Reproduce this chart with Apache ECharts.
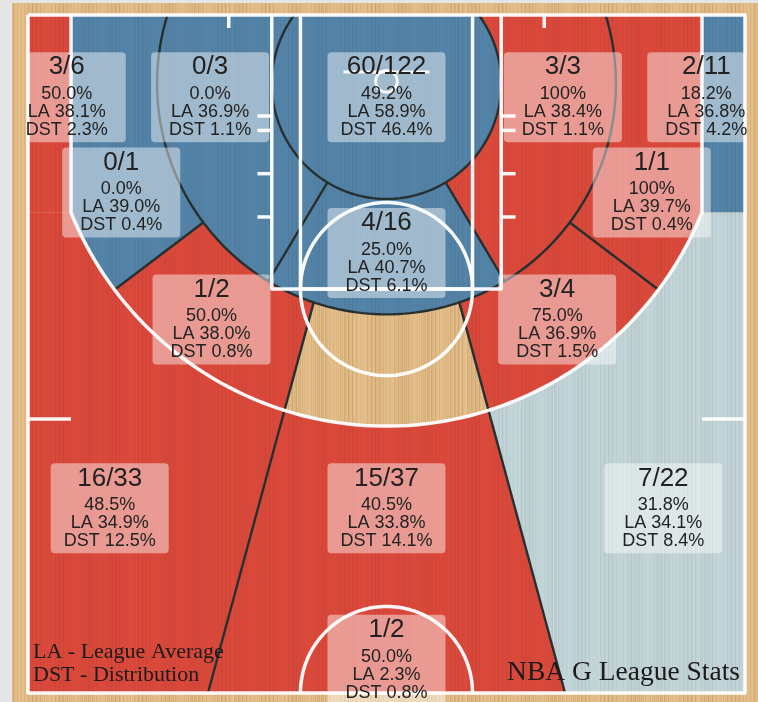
<!DOCTYPE html>
<html>
<head>
<meta charset="utf-8">
<script src="https://cdn.jsdelivr.net/npm/echarts@6/dist/echarts.min.js"></script>
<style>
  html, body { margin: 0; padding: 0; background: #e5e5e5; }
  #chart { width: 758px; height: 702px; }
</style>
</head>
<body>
<div id="chart"></div>
<script>
// ---- shot data per zone ----
const zoneIds = [
  'leftCorner3', 'leftBaseShort', 'restricted', 'rightBaseShort', 'rightCorner3',
  'leftBaseLong', 'rightBaseLong', 'paint', 'leftWing', 'rightWing',
  'leftAbove3', 'center3', 'rightAbove3', 'backcourt', 'centerMid'
];
const made        = [3, 0, 60, 3, 2, 0, 1, 4, 1, 3, 16, 15, 7, 1, 0];
const attempts    = [6, 3, 122, 3, 11, 1, 1, 16, 2, 4, 33, 37, 22, 2, 0];
const leagueAvg   = [38.1, 36.9, 58.9, 38.4, 36.8, 39.0, 39.7, 40.7, 38.0, 36.9, 34.9, 33.8, 34.1, 2.3, 0];
const distribution = [2.3, 1.1, 46.4, 1.1, 4.2, 0.4, 0.4, 6.1, 0.8, 1.5, 12.5, 14.1, 8.4, 0.8, 0];

// ---- half-court geometry (feet; x across, y from baseline) ----
const COURT_W = 25, COURT_L = 47;
const BASKET_Y = 4.75;
const R_RA = 8, R_MID = 16, R_3 = 23.75, CORNER_X = 22;
const Y_BREAK = BASKET_Y + Math.sqrt(R_3 * R_3 - CORNER_X * CORNER_X);
const ANG_BREAK = Math.asin(CORNER_X / R_3) * 180 / Math.PI;
const ANG_PAINT = 31, ANG_WING = 53, ANG_CENTER = 18.5, HALF_X = 12.45;

function P(r, deg) {
  const a = deg * Math.PI / 180;
  return [r * Math.sin(a), BASKET_Y + r * Math.cos(a)];
}
function arc(r, a0, a1) {
  const n = Math.max(8, Math.ceil(Math.abs(a1 - a0) / 1.5));
  const out = [];
  for (let k = 0; k <= n; k++) out.push(P(r, a0 + (a1 - a0) * k / n));
  return out;
}
function circlePts(cx, cy, r, t0, t1) {
  const n = 90, out = [];
  for (let k = 0; k <= n; k++) {
    const t = (t0 + (t1 - t0) * k / n) * Math.PI / 180;
    out.push([cx + r * Math.cos(t), cy + r * Math.sin(t)]);
  }
  return out;
}
// centre wedge edge (side -1 left, +1 right), 16 ft arc to half-court line
const wedgeStart = side => P(R_MID, side * ANG_CENTER);
const wedgeEnd = side => [side * HALF_X, COURT_L];
function wedgeAt3(side) {
  const a = wedgeStart(side), b = wedgeEnd(side);
  let lo = 0, hi = 1;
  for (let k = 0; k < 60; k++) {
    const m = (lo + hi) / 2;
    const x = a[0] + (b[0] - a[0]) * m, y = a[1] + (b[1] - a[1]) * m;
    if (Math.hypot(x, y - BASKET_Y) < R_3) lo = m; else hi = m;
  }
  const t = (lo + hi) / 2;
  return [a[0] + (b[0] - a[0]) * t, a[1] + (b[1] - a[1]) * t];
}
const angleOf = p => Math.atan2(p[0], p[1] - BASKET_Y) * 180 / Math.PI;
const A3L = angleOf(wedgeAt3(-1)), A3R = angleOf(wedgeAt3(1));

// zone outlines and label anchors
const zoneLayout = {
  leftCorner3:   { poly: [[-COURT_W, 0], [-CORNER_X, 0], [-CORNER_X, Y_BREAK], [-COURT_W, Y_BREAK]], at: [-22.3, 5.7] },
  rightCorner3:  { poly: [[COURT_W, 0], [CORNER_X, 0], [CORNER_X, Y_BREAK], [COURT_W, Y_BREAK]], at: [22.3, 5.7] },
  restricted:    { poly: arc(R_RA, -180, 180), at: [0, 5.7] },
  paint:         { poly: arc(R_RA, -ANG_PAINT, ANG_PAINT).concat(arc(R_MID, ANG_PAINT, -ANG_PAINT)), at: [0, 16.5] },
  leftBaseShort: { poly: arc(R_RA, -ANG_PAINT, -170).concat(arc(R_MID, -170, -ANG_PAINT)), at: [-12.3, 5.7] },
  rightBaseShort:{ poly: arc(R_RA, ANG_PAINT, 170).concat(arc(R_MID, 170, ANG_PAINT)), at: [12.3, 5.7] },
  leftBaseLong:  { poly: arc(R_MID, -ANG_WING, -150).concat([[-CORNER_X, -6], [-CORNER_X, Y_BREAK]], arc(R_3, -ANG_BREAK, -ANG_WING)), at: [-18.5, 12.3] },
  rightBaseLong: { poly: arc(R_MID, ANG_WING, 150).concat([[CORNER_X, -6], [CORNER_X, Y_BREAK]], arc(R_3, ANG_BREAK, ANG_WING)), at: [18.5, 12.3] },
  leftWing:      { poly: arc(R_MID, -ANG_CENTER, -ANG_WING).concat(arc(R_3, -ANG_WING, A3L)), at: [-12.2, 21.1] },
  rightWing:     { poly: arc(R_MID, ANG_CENTER, ANG_WING).concat(arc(R_3, ANG_WING, A3R)), at: [11.9, 21.1] },
  centerMid:     { poly: arc(R_MID, -ANG_CENTER, ANG_CENTER).concat(arc(R_3, A3R, A3L)), at: [0, 23] },
  leftAbove3:    { poly: [[-COURT_W, Y_BREAK], [-CORNER_X, Y_BREAK]].concat(arc(R_3, -ANG_BREAK, A3L), [wedgeEnd(-1), [-COURT_W, COURT_L]]), at: [-19.3, 34.2] },
  center3:       { poly: arc(R_3, A3L, A3R).concat([wedgeEnd(1), wedgeEnd(-1)]), at: [0, 34.2] },
  rightAbove3:   { poly: [[COURT_W, Y_BREAK], [CORNER_X, Y_BREAK]].concat(arc(R_3, ANG_BREAK, A3R), [wedgeEnd(1), [COURT_W, COURT_L]]), at: [19.3, 34.2] },
  backcourt:     { poly: null, at: [0, 44.7] }
};

// ---- colours ----
const RED = '#dd4a3c', BLUE = '#5485aa', LIGHT = '#c4d7db';
const WOOD = '#e5c18d';
const EDGE = '#263030';
function fgPct(i) { return attempts[i] ? made[i] / attempts[i] * 100 : 0; }
function fgText(i) {
  const v = fgPct(i);
  return (v === 100 ? '100' : v.toFixed(1)) + '%';
}
function zoneColor(i) {
  if (!attempts[i]) return 'none';
  const d = fgPct(i) - leagueAvg[i];
  if (d > 3) return RED;
  if (d < -3) return BLUE;
  return LIGHT;
}

// fine vertical grain laid over floor and zones
function grainCanvas(rgb, strength) {
  const cv = document.createElement('canvas');
  cv.width = 233; cv.height = 4;
  const ctx = cv.getContext('2d');
  for (let x = 0; x < cv.width; x++) {
    const v = Math.abs(Math.sin(x * 0.83) * Math.sin(x * 0.117 + 0.7) + 0.35 * Math.sin(x * 2.31));
    ctx.fillStyle = 'rgba(' + rgb + ',' + (strength * v).toFixed(3) + ')';
    ctx.fillRect(x, 0, 1, 4);
  }
  return cv;
}
const woodGrain = { image: grainCanvas('150,95,35', 0.22), repeat: 'repeat' };
const zoneGrain = { image: grainCanvas('40,20,10', 0.07), repeat: 'repeat' };

// clip a polygon to the court rectangle
function clipEdge(pts, axis, val, keepGreater) {
  const out = [];
  const inside = p => keepGreater ? p[axis] >= val : p[axis] <= val;
  const cross = (a, b) => {
    const t = (val - a[axis]) / (b[axis] - a[axis]);
    return [a[0] + (b[0] - a[0]) * t, a[1] + (b[1] - a[1]) * t];
  };
  for (let i = 0; i < pts.length; i++) {
    const cur = pts[i], prev = pts[(i + pts.length - 1) % pts.length];
    if (inside(cur)) {
      if (!inside(prev)) out.push(cross(prev, cur));
      out.push(cur);
    } else if (inside(prev)) out.push(cross(prev, cur));
  }
  return out;
}
function clipCourt(pts) {
  let p = clipEdge(pts, 0, -COURT_W, true);
  p = clipEdge(p, 0, COURT_W, false);
  p = clipEdge(p, 1, 0, true);
  p = clipEdge(p, 1, COURT_L, false);
  return p;
}

// ---- zone edge lines (dark) ----
const edgeLines = [
  arc(R_RA, -126.4, 126.4),
  arc(R_MID, -107.3, 107.3),
  [P(R_RA, -ANG_PAINT), P(R_MID, -ANG_PAINT)],
  [P(R_RA, ANG_PAINT), P(R_MID, ANG_PAINT)],
  [P(R_MID, -ANG_WING), P(R_3, -ANG_WING)],
  [P(R_MID, ANG_WING), P(R_3, ANG_WING)],
  [wedgeStart(-1), wedgeEnd(-1)],
  [wedgeStart(1), wedgeEnd(1)]
];
// backboard and rim (sit under the label box)
const basketLines = [
  [[-3, 3.95], [3, 3.95]],
  circlePts(0, 4.6, 0.75, 0, 360)
];

// ---- court markings (white) ----
const courtLines = [
  [[-COURT_W, 0], [COURT_W, 0], [COURT_W, COURT_L], [-COURT_W, COURT_L], [-COURT_W, 0]],
  [[-8, 0], [-8, 19], [8, 19], [8, 0]],
  [[-6, 0], [-6, 19], [6, 19], [6, 0]],
  circlePts(0, 19, 6, 0, 360),
  [[-CORNER_X, 0]].concat(arc(R_3, -ANG_BREAK, ANG_BREAK), [[CORNER_X, 0]]),
  circlePts(0, COURT_L, 6, 180, 360),
  [[-9, 7], [-8, 7]], [[8, 7], [9, 7]],
  [[-9, 8], [-8, 8]], [[8, 8], [9, 8]],
  [[-9, 11], [-8, 11]], [[8, 11], [9, 11]],
  [[-9, 14], [-8, 14]], [[8, 14], [9, 14]],
  [[-11, 0], [-11, 0.9]], [[11, 0], [11, 0.9]],
  [[-COURT_W, 28], [-CORNER_X, 28]], [[CORNER_X, 28], [COURT_W, 28]]
];

const chart = echarts.init(document.getElementById('chart'), null, { renderer: 'canvas' });
const labelIdx = zoneIds.map((_, i) => i).filter(i => attempts[i] > 0);
const FONT = '"Liberation Sans", Arial, Helvetica, sans-serif';
const SERIF = '"Liberation Serif", "Times New Roman", serif';

function polyline(api, pts, stroke, width) {
  return {
    type: 'polyline',
    shape: { points: pts.map(p => api.coord(p)) },
    style: { stroke: stroke, lineWidth: width, fill: null, lineJoin: 'round', lineCap: 'butt' }
  };
}

chart.setOption({
  backgroundColor: WOOD,
  animation: false,
  grid: { left: 28, top: 15, width: 717, height: 678 },
  xAxis: { type: 'value', min: -COURT_W, max: COURT_W, show: false },
  yAxis: { type: 'value', min: 0, max: COURT_L, inverse: true, show: false },
  graphic: [
    { type: 'rect', left: 0, top: 0, z: 0, shape: { width: 758, height: 702 }, style: { fill: woodGrain } },
    { type: 'rect', left: 0, top: 0, z: 0, shape: { width: 12, height: 702 }, style: { fill: '#e5e5e5' } },
    { type: 'rect', left: 0, top: 0, z: 0, shape: { width: 758, height: 3 }, style: { fill: '#e5e5e5' } },
    { type: 'text', x: 33, y: 652, z: 100, style: { text: 'LA - League Average', font: '22px ' + SERIF, fill: '#1b1b1b', verticalAlign: 'middle' } },
    { type: 'text', x: 33, y: 675, z: 100, style: { text: 'DST - Distribution', font: '22px ' + SERIF, fill: '#1b1b1b', verticalAlign: 'middle' } },
    { type: 'text', x: 740, y: 673, z: 100, style: { text: 'NBA G League Stats', font: '27.5px ' + SERIF, fill: '#1b1b1b', align: 'right', verticalAlign: 'middle' } }
  ],
  series: [
    {
      // coloured shot zones
      type: 'custom', z: 1, silent: true,
      data: zoneIds.map((_, i) => [i, 0]),
      renderItem(params, api) {
        const i = params.dataIndex;
        const lay = zoneLayout[zoneIds[i]];
        if (!lay.poly || !attempts[i]) return { type: 'group', children: [] };
        const pts = clipCourt(lay.poly).map(p => api.coord(p));
        return {
          type: 'group',
          children: [
            { type: 'polygon', shape: { points: pts }, style: { fill: zoneColor(i), stroke: null } },
            { type: 'polygon', shape: { points: pts }, style: { fill: zoneGrain, stroke: null } }
          ]
        };
      }
    },
    {
      // zone edges, backboard and rim
      type: 'custom', z: 2, silent: true,
      data: edgeLines.concat(basketLines).map((_, i) => [i, 0]),
      renderItem(params, api) {
        const k = params.dataIndex;
        if (k < edgeLines.length) return polyline(api, edgeLines[k], EDGE, 2.4);
        return polyline(api, basketLines[k - edgeLines.length], 'rgba(255,255,255,0.9)', 3);
      }
    },
    {
      // label boxes
      type: 'custom', z: 3, silent: true,
      data: labelIdx.map(i => [i, 0]),
      renderItem(params, api) {
        const i = labelIdx[params.dataIndex];
        const c = api.coord(zoneLayout[zoneIds[i]].at);
        const l = api.coord([-COURT_W, 0])[0], r = api.coord([COURT_W, 0])[0];
        const x0 = Math.max(l, c[0] - 59), x1 = Math.min(r, c[0] + 59);
        return { type: 'rect', shape: { x: x0, y: c[1] - 45, width: x1 - x0, height: 90, r: 4 }, style: { fill: 'rgba(255,255,255,0.45)' } };
      }
    },
    {
      // court markings
      type: 'custom', z: 4, silent: true,
      data: courtLines.map((_, i) => [i, 0]),
      renderItem(params, api) {
        return polyline(api, courtLines[params.dataIndex], 'rgba(255,255,255,0.95)', 3.5);
      }
    },
    {
      // label text
      type: 'custom', z: 5, silent: true,
      data: labelIdx.map(i => [i, 0]),
      renderItem(params, api) {
        const i = labelIdx[params.dataIndex];
        const c = api.coord(zoneLayout[zoneIds[i]].at);
        const t = (text, dy, size) => ({
          type: 'text', x: c[0], y: c[1] + dy,
          style: { text: text, font: size + 'px ' + FONT, fill: '#222', align: 'center', verticalAlign: 'middle' }
        });
        return {
          type: 'group',
          children: [
            t(made[i] + '/' + attempts[i], -30, 26),
            t(fgText(i), -3, 18),
            t('LA ' + leagueAvg[i].toFixed(1) + '%', 15, 18),
            t('DST ' + distribution[i].toFixed(1) + '%', 33, 18)
          ]
        };
      }
    }
  ]
});
</script>
</body>
</html>
